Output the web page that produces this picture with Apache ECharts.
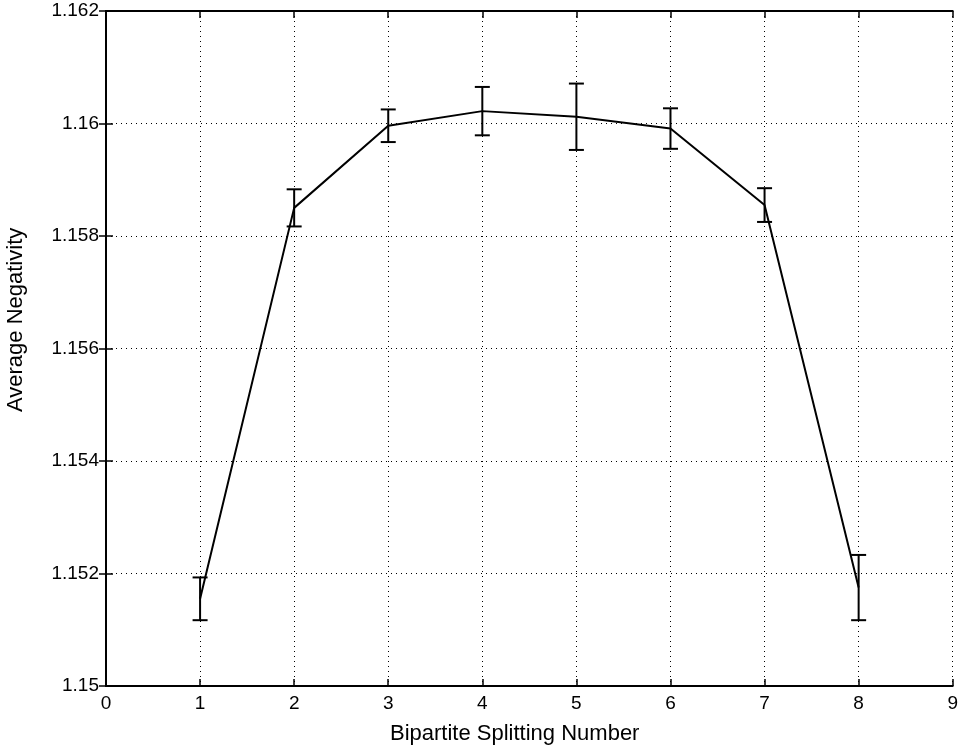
<!DOCTYPE html>
<html>
<head>
<meta charset="utf-8">
<script src="https://cdn.jsdelivr.net/npm/echarts@6/dist/echarts.min.js"></script>
<style>
  html, body { margin: 0; padding: 0; background: #fff; }
  #chart { width: 961px; height: 751px; }
</style>
</head>
<body>
<div id="chart"></div>
<script>
// splitting number vs average negativity, with error bars
const splitNumbers = [1, 2, 3, 4, 5, 6, 7, 8];
const avgNegativity = [1.15155, 1.15850, 1.15996, 1.16022, 1.16012, 1.15991, 1.15855, 1.15175];
const errors = [0.00038, 0.00033, 0.00029, 0.00043, 0.00059, 0.00036, 0.00030, 0.00058];

const chart = echarts.init(document.getElementById('chart'));

const lineData = splitNumbers.map((x, i) => [x, avgNegativity[i]]);
const errData = splitNumbers.map((x, i) => [x, avgNegativity[i] - errors[i], avgNegativity[i] + errors[i]]);

const fontFam = 'Liberation Sans, Arial, sans-serif';
const gridLine = { show: true, lineStyle: { color: '#000', type: [1, 4], width: 1 } };
const frame = { lineStyle: { color: '#000', width: 2 } };

chart.setOption({
  animation: false,
  grid: { left: 106, right: 1, top: 11, bottom: 65 },
  // axis titles sit a bit off-centre in the original, so place them by hand
  graphic: [{
    type: 'text', left: 390, top: 723,
    style: { text: 'Bipartite Splitting Number', fill: '#000', font: '22px ' + fontFam }
  }, {
    type: 'text', x: 5, y: 412, rotation: Math.PI / 2,
    style: { text: 'Average Negativity', fill: '#000', font: '22px ' + fontFam }
  }],
  xAxis: [{
    type: 'value', min: 0, max: 9, interval: 1,
    axisLine: frame,
    axisTick: { inside: true, length: 7, lineStyle: { color: '#000', width: 1.5 } },
    axisLabel: { color: '#000', fontSize: 19, fontFamily: fontFam, margin: 8 },
    splitLine: gridLine
  }, {
    type: 'value', min: 0, max: 9, interval: 1, position: 'top',
    axisLine: frame,
    axisTick: { inside: true, length: 7, lineStyle: { color: '#000', width: 1.5 } },
    axisLabel: { show: false }, splitLine: { show: false }
  }],
  yAxis: [{
    type: 'value', min: 1.15, max: 1.162, interval: 0.002,
    axisLine: { show: true, ...frame },
    axisTick: { inside: true, length: 7, lineStyle: { color: '#000', width: 1.5 } },
    axisLabel: {
      color: '#000', fontSize: 19, fontFamily: fontFam, margin: 7,
      formatter: v => String(parseFloat(v.toFixed(3)))
    },
    splitLine: gridLine
  }, {
    type: 'value', min: 1.15, max: 1.162, interval: 0.002, position: 'right',
    axisLine: { show: true, ...frame },
    axisTick: { inside: true, length: 7, lineStyle: { color: '#000', width: 1.5 } },
    axisLabel: { show: false }, splitLine: { show: false }
  }],
  series: [{
    type: 'line', data: lineData, symbol: 'none',
    lineStyle: { color: '#000', width: 2 }
  }, {
    type: 'custom', data: errData,
    renderItem(params, api) {
      const x = api.value(0);
      const lo = api.coord([x, api.value(1)]);
      const hi = api.coord([x, api.value(2)]);
      const hw = 7.5;
      const style = { stroke: '#000', lineWidth: 2 };
      return {
        type: 'group',
        children: [
          { type: 'line', shape: { x1: lo[0], y1: lo[1], x2: hi[0], y2: hi[1] }, style },
          { type: 'line', shape: { x1: lo[0] - hw, y1: lo[1], x2: lo[0] + hw, y2: lo[1] }, style },
          { type: 'line', shape: { x1: hi[0] - hw, y1: hi[1], x2: hi[0] + hw, y2: hi[1] }, style }
        ]
      };
    }
  }]
});
</script>
</body>
</html>
